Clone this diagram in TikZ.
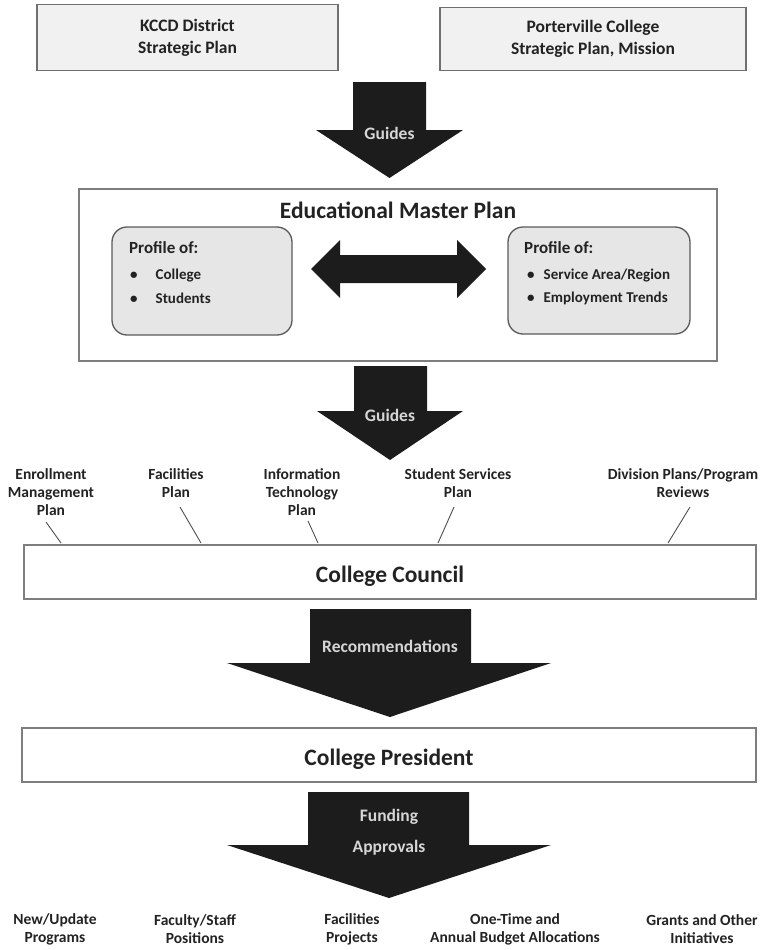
\documentclass[tikz,border=0pt]{standalone}
\usepackage{fontspec}
\setmainfont{Carlito}
\usepackage{tikz}
\usetikzlibrary{positioning}

\definecolor{boxfill}{HTML}{F1F1F1}
\definecolor{boxline}{HTML}{707070}
\definecolor{profilefill}{HTML}{E6E6E6}
\definecolor{arrowfill}{HTML}{1C1C1C}
\definecolor{textdark}{HTML}{222222}
\definecolor{arrowtextc}{HTML}{D6D6D6}

\begin{document}
\begin{tikzpicture}[x=1pt,y=-1pt,
    planbox/.style={draw=boxline,line width=1.4pt,fill=boxfill,align=center,text=textdark,font=\fontsize{17.5}{22}\selectfont\bfseries},
    mainbox/.style={draw=boxline!90,line width=1.6pt,fill=white},
    profilebox/.style={draw=boxline!80!black,line width=1.3pt,fill=profilefill,rounded corners=15pt},
    blockarrow/.style={fill=arrowfill},
    arrowtext/.style={text=arrowtextc,font=\fontsize{17.5}{20}\selectfont\bfseries},
    titletext/.style={text=textdark,font=\fontsize{23.5}{27}\selectfont\bfseries},
    profiletext/.style={text=textdark,anchor=west,inner sep=0pt,font=\fontsize{17}{20}\selectfont\bfseries},
    itemtext/.style={text=textdark,anchor=west,inner sep=0pt,font=\fontsize{15}{18}\selectfont\bfseries},
    plantext/.style={text=textdark,align=center,font=\fontsize{15.5}{18}\selectfont\bfseries},
    leader/.style={draw=textdark!80,line width=0.9pt}]

\useasboundingbox (0,0) rectangle (764,950);

\node[planbox,minimum width=301,minimum height=66] (kccd) at (187.5,37.5) {KCCD District\\Strategic Plan};
\node[planbox,minimum width=306,minimum height=63] (pc) at (593,39) {Porterville College\\Strategic Plan, Mission};

\fill[blockarrow] (353,82) -- (426,82) -- (426,130) -- (463,130) -- (389.5,178) -- (316,130) -- (353,130) -- cycle;
\node[arrowtext] (guides1) at (389.5,133) {Guides};

\node[mainbox,minimum width=638,minimum height=172] (emp) at (398,275) {};
\node[titletext] (emptitle) at (398,210) {Educational Master Plan};

\node[profilebox,minimum width=180,minimum height=108] (profcol) at (202,281) {};
\node[profilebox,minimum width=182,minimum height=107] (profreg) at (599,280.5) {};

\node[profiletext] (colhead) at (129,248) {Profile of:};
\node[itemtext] (colitem1) at (130,276) {\textbullet\hspace{18pt}College};
\node[itemtext] (colitem2) at (130,298) {\textbullet\hspace{18pt}Students};

\node[profiletext] (reghead) at (524,248) {Profile of:};
\node[itemtext] (regitem1) at (527,276) {\textbullet\hspace{9pt}Service Area/Region};
\node[itemtext] (regitem2) at (527,298) {\textbullet\hspace{9pt}Employment Trends};

\fill[blockarrow] (311,269) -- (340,240) -- (340,255) -- (457,255) -- (457,240) -- (486,269) -- (457,298) -- (457,283) -- (340,283) -- (340,298) -- cycle;

\fill[blockarrow] (354,366) -- (427,366) -- (427,411) -- (463,411) -- (390,460) -- (317,411) -- (354,411) -- cycle;
\node[arrowtext] (guides2) at (390,415) {Guides};

\node[plantext] (enroll) at (51,492) {Enrollment\\Management\\Plan};
\node[plantext] (facil) at (176,483) {Facilities\\Plan};
\node[plantext] (infotech) at (302,492) {Information\\Technology\\Plan};
\node[plantext] (stuserv) at (458,483) {Student Services\\Plan};
\node[plantext] (division) at (683,483) {Division Plans/Program\\Reviews};

\node[mainbox,minimum width=732,minimum height=54] (council) at (390,572) {};
\node[titletext] (counciltext) at (390,576) {College Council};

\coordinate (enroll1) at (46,522);   \coordinate (enroll2) at (61,543);
\coordinate (facil1) at (180,507);   \coordinate (facil2) at (201,543);
\coordinate (infotech1) at (308,521); \coordinate (infotech2) at (318,543);
\coordinate (stuserv1) at (454,507); \coordinate (stuserv2) at (438,543);
\coordinate (division1) at (690,507); \coordinate (division2) at (668,543);

\foreach \n in {enroll,facil,infotech,stuserv,division}
    \draw[leader] (\n1) -- (\n2);

\fill[blockarrow] (310,609) -- (471,609) -- (471,663) -- (551,663) -- (390,717) -- (227,663) -- (310,663) -- cycle;
\node[arrowtext] (recom) at (390,646) {Recommendations};

\node[mainbox,minimum width=734,minimum height=54] (president) at (389,755) {};
\node[titletext] (presidenttext) at (389,759) {College President};

\fill[blockarrow] (308,792) -- (469,792) -- (469,845) -- (551,845) -- (389,898) -- (227,845) -- (308,845) -- cycle;
\node[arrowtext] (funding) at (389,817) {Funding};
\node[arrowtext] (approvals) at (389,848) {Approvals};

\node[plantext] (newprog) at (55,929) {New/Update\\Programs};
\node[plantext] (faculty) at (195,929) {Faculty/Staff\\Positions};
\node[plantext] (facproj) at (352,929) {Facilities\\Projects};
\node[plantext] (budget) at (515,929) {One-Time and\\Annual Budget Allocations};
\node[plantext] (grants) at (702,929) {Grants and Other\\Initiatives};

\end{tikzpicture}
\end{document}
